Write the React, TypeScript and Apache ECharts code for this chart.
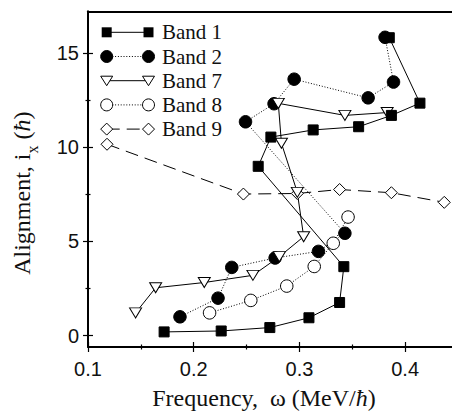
import React, { useEffect, useRef } from "react";
import * as echarts from "echarts";

const bandNames = ["Band 1", "Band 2", "Band 7", "Band 8", "Band 9"];

const band1Freq = [0.172, 0.226, 0.272, 0.309, 0.338, 0.342, 0.261, 0.273, 0.313, 0.356, 0.387, 0.414, 0.385];
const band1Align = [0.2, 0.25, 0.43, 0.95, 1.76, 3.66, 8.98, 10.53, 10.91, 11.08, 11.68, 12.33, 15.8];

const band2Freq = [0.187, 0.223, 0.236, 0.277, 0.318, 0.343, 0.249, 0.276, 0.295, 0.365, 0.389, 0.381];
const band2Align = [1.0, 1.99, 3.62, 4.12, 4.47, 5.43, 11.34, 12.3, 13.6, 12.61, 13.45, 15.82];

const band7Freq = [0.145, 0.164, 0.21, 0.256, 0.281, 0.304, 0.298, 0.283, 0.28, 0.343, 0.383];
const band7Align = [1.21, 2.54, 2.82, 3.2, 4.19, 5.25, 7.6, 10.2, 12.32, 11.68, 11.83];

const band8Freq = [0.215, 0.254, 0.288, 0.314, 0.332, 0.346];
const band8Align = [1.21, 1.87, 2.63, 3.67, 4.9, 6.29];

const band9Freq = [0.118, 0.247, 0.298, 0.338, 0.387, 0.437];
const band9Align = [10.15, 7.51, 7.54, 7.75, 7.58, 7.07];

const xMajorTicks = [0.1, 0.2, 0.3, 0.4];
const xMinorTicks = [0.15, 0.25, 0.35, 0.45];
const yMajorTicks = [0, 5, 10, 15];
const yMinorTicks = [2.5, 7.5, 12.5];

const zip = (xs: number[], ys: number[]) => xs.map((x, i) => [x, ys[i]]);

type MarkerKind = "square" | "disc" | "tri" | "ring" | "diamond";

const styles: { kind: MarkerKind; dash: "solid" | "dotted" | "dashed" }[] = [
  { kind: "square", dash: "solid" },
  { kind: "disc", dash: "dotted" },
  { kind: "tri", dash: "solid" },
  { kind: "ring", dash: "dotted" },
  { kind: "diamond", dash: "dashed" },
];

const dashOf = (d: string): any => (d === "solid" ? "solid" : d === "dotted" ? [1, 1.8] : [13, 7]);

const symbolOf = (k: MarkerKind) => {
  switch (k) {
    case "square":
      return { symbol: "rect", symbolSize: 10, fill: "#000" };
    case "disc":
      return { symbol: "circle", symbolSize: 12.5, fill: "#000" };
    case "tri":
      return { symbol: "triangle", symbolSize: [12, 10], fill: "#fff", rotate: 180 };
    case "ring":
      return { symbol: "circle", symbolSize: 12.5, fill: "#fff" };
    default:
      return { symbol: "diamond", symbolSize: 12, fill: "#fff" };
  }
};

function legendMarker(k: MarkerKind, cx: number, cy: number): any {
  const st = { fill: k === "square" || k === "disc" ? "#000" : "#fff", stroke: "#000", lineWidth: 1 };
  if (k === "square") return { type: "rect", shape: { x: cx - 5, y: cy - 5, width: 10, height: 10 }, style: { fill: "#000" } };
  if (k === "disc" || k === "ring") return { type: "circle", shape: { cx, cy, r: 6 }, style: st };
  if (k === "tri")
    return { type: "polygon", shape: { points: [[cx - 6, cy - 4.5], [cx + 6, cy - 4.5], [cx, cy + 5]] }, style: st };
  return { type: "polygon", shape: { points: [[cx, cy - 6], [cx + 6, cy], [cx, cy + 6], [cx - 6, cy]] }, style: st };
}

export default function App() {
  const ref = useRef<HTMLDivElement>(null);
  useEffect(() => {
    if (!ref.current) return;
    const chart = echarts.init(ref.current, null, { renderer: "svg" });
    const datasets = [
      zip(band1Freq, band1Align),
      zip(band2Freq, band2Align),
      zip(band7Freq, band7Align),
      zip(band8Freq, band8Align),
      zip(band9Freq, band9Align),
    ];
    const order = [4, 3, 1, 2, 0];
    const series = order.map((i) => {
      const s = symbolOf(styles[i].kind);
      return {
        type: "line",
        name: bandNames[i],
        data: datasets[i],
        xAxisIndex: 0,
        yAxisIndex: 0,
        symbol: s.symbol,
        symbolSize: s.symbolSize,
        symbolRotate: (s as any).rotate || 0,
        showSymbol: true,
        lineStyle: { color: "#000", width: 1, type: dashOf(styles[i].dash) },
        itemStyle: { color: s.fill, borderColor: "#000", borderWidth: 1 },
        emphasis: { disabled: true },
      };
    });

    const legendEls: any[] = [];
    bandNames.forEach((name, i) => {
      const y = 32.3 + 24.2 * i;
      legendEls.push({
        type: "line",
        shape: { x1: 106.7, y1: y, x2: 148.5, y2: y },
        style: { stroke: "#000", lineWidth: 1, lineDash: styles[i].dash === "solid" ? null : dashOf(styles[i].dash) },
      });
      legendEls.push(legendMarker(styles[i].kind, 106.7, y));
      legendEls.push(legendMarker(styles[i].kind, 148.5, y));
      legendEls.push({
        type: "text",
        x: 162,
        y,
        style: { text: name, fontSize: 21, fontFamily: "Liberation Serif", fill: "#111", verticalAlign: "middle", align: "left" },
      });
    });

    const xBase = { type: "value", min: 0.1, max: 0.45, gridIndex: 0, splitLine: { show: false } };
    const yBase = { type: "value", min: -0.6, max: 17.2, gridIndex: 0, splitLine: { show: false } };
    const tickStyle = { color: "#000", width: 1.2 };

    chart.setOption({
      animation: false,
      grid: { left: 88, top: 11.3, width: 370, height: 341.7, containLabel: false },
      xAxis: [
        {
          ...xBase,
          position: "bottom",
          axisLine: { show: true, onZero: false, lineStyle: { color: "#000", width: 2 } },
          axisTick: { show: true, customValues: xMajorTicks, length: 5, lineStyle: tickStyle },
          axisLabel: {
            customValues: xMajorTicks,
            formatter: (v: number) => v.toFixed(1),
            fontSize: 20,
            fontFamily: "Liberation Sans",
            color: "#111",
            margin: 12,
          },
          name: "Frequency,  ω (MeV/{it|ħ})",
          nameLocation: "middle",
          nameGap: 39,
          nameTextStyle: {
            fontSize: 24,
            fontFamily: "Liberation Serif",
            color: "#111",
            padding: [0, 18, 0, 0],
            rich: { it: { fontSize: 24, fontFamily: "Liberation Serif", fontStyle: "italic", color: "#111" } },
          },
        },
        {
          ...xBase,
          position: "bottom",
          axisLine: { show: false, onZero: false },
          axisTick: { show: true, inside: true, customValues: xMajorTicks, length: 5, lineStyle: tickStyle },
          axisLabel: { show: false },
        },
        {
          ...xBase,
          position: "bottom",
          axisLine: { show: false, onZero: false },
          axisTick: { show: true, customValues: xMinorTicks, length: 2.5, lineStyle: tickStyle },
          axisLabel: { show: false },
        },
        {
          ...xBase,
          position: "bottom",
          axisLine: { show: false, onZero: false },
          axisTick: { show: true, inside: true, customValues: xMinorTicks, length: 2.5, lineStyle: tickStyle },
          axisLabel: { show: false },
        },
        {
          ...xBase,
          position: "top",
          axisLine: { show: true, onZero: false, lineStyle: { color: "#000", width: 2 } },
          axisTick: { show: false },
          axisLabel: { show: false },
        },
      ],
      yAxis: [
        {
          ...yBase,
          position: "left",
          axisLine: { show: true, onZero: false, lineStyle: { color: "#000", width: 2 } },
          axisTick: { show: true, customValues: yMajorTicks, length: 5, lineStyle: tickStyle },
          axisLabel: {
            customValues: yMajorTicks,
            fontSize: 20,
            fontFamily: "Liberation Sans",
            color: "#111",
            margin: 9,
          },
          name: "{a|Alignment, i}{sub|x}{a| (}{it|ħ}{a|)}",
          nameLocation: "middle",
          nameGap: 48,
          nameTextStyle: {
            padding: [0, 28, 0, 0],
            rich: {
              a: { fontSize: 24, fontFamily: "Liberation Serif", color: "#111", lineHeight: 30, verticalAlign: "top" },
              it: {
                fontSize: 24,
                fontFamily: "Liberation Serif",
                fontStyle: "italic",
                color: "#111",
                lineHeight: 30,
                verticalAlign: "top",
              },
              sub: { fontSize: 16, fontFamily: "Liberation Serif", color: "#111", lineHeight: 16, verticalAlign: "bottom" },
            },
          },
        },
        {
          ...yBase,
          position: "left",
          axisLine: { show: false, onZero: false },
          axisTick: { show: true, inside: true, customValues: yMajorTicks, length: 5, lineStyle: tickStyle },
          axisLabel: { show: false },
        },
        {
          ...yBase,
          position: "left",
          axisLine: { show: false, onZero: false },
          axisTick: { show: true, customValues: yMinorTicks, length: 2.5, lineStyle: tickStyle },
          axisLabel: { show: false },
        },
        {
          ...yBase,
          position: "left",
          axisLine: { show: false, onZero: false },
          axisTick: { show: true, inside: true, customValues: yMinorTicks, length: 2.5, lineStyle: tickStyle },
          axisLabel: { show: false },
        },
      ],
      series,
      graphic: { elements: [{ type: "group", children: legendEls }] },
    });
    return () => chart.dispose();
  }, []);

  return (
    <div style={{ position: "absolute", left: 0, top: 0, width: 452, height: 415, overflow: "hidden", background: "#fff" }}>
      <div ref={ref} style={{ width: 470, height: 415 }} />
    </div>
  );
}
